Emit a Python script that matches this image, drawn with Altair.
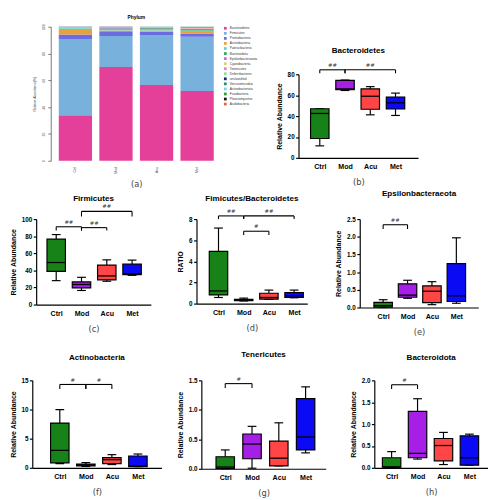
import altair as alt
import pandas as pd

# ---------------- data ----------------
groups = ["Ctrl", "Mod", "Acu", "Met"]
group_colors = ["#178217", "#A51FE6", "#FF4545", "#0A0AF5"]

phyla = ["Bacteroidetes", "Firmicutes", "Proteobacteria", "Actinobacteria",
         "Patescibacteria", "Bacteroidota", "Epsilonbacteraeota", "Cyanobacteria",
         "Tenericutes", "Deferribacteres", "unclassified", "Verrucomicrobia",
         "Actinobacteriota", "Fusobacteria", "Planctomycetes", "Acidobacteria"]
phyla_colors = ["#E4409A", "#78B2DC", "#6C6CE0", "#E9A23B", "#5FD4CF", "#33A55A",
                "#C46BE0", "#D6D36E", "#F47DB8", "#86E39F", "#1E2A5E", "#2B8C78",
                "#72D5F2", "#2E9E2E", "#151515", "#E5632E"]

ctrl_abund = [34.0, 56.5, 3.6, 4.4, 0.6, 0.2, 0.1, 0.1, 0.2, 0.1, 0.1, 0.05, 0.02, 0.01, 0.01, 0.01]
mod_abund = [70.0, 23.0, 3.6, 0.5, 0.8, 0.8, 0.5, 0.1, 0.4, 0.1, 0.1, 0.05, 0.02, 0.01, 0.01, 0.01]
acu_abund = [56.5, 37.0, 2.8, 0.8, 1.2, 0.5, 0.4, 0.1, 0.3, 0.1, 0.1, 0.1, 0.05, 0.02, 0.01, 0.02]
met_abund = [52.0, 40.5, 2.5, 1.0, 1.2, 0.3, 0.7, 0.4, 0.8, 0.2, 0.1, 0.2, 0.05, 0.02, 0.01, 0.02]

# box stats per group: [min, q1, median, q3, max]  (Ctrl, Mod, Acu, Met)
bacteroidetes = [[11.5, 18.5, 42.5, 47.0, 47.0], [64.5, 65.2, 66.0, 74.2, 74.5],
                 [41.2, 46.5, 59.0, 66.0, 68.2], [40.6, 46.8, 52.7, 58.3, 62.0]]
firmicutes = [[28.0, 38.8, 49.2, 76.5, 81.9], [16.5, 19.6, 23.5, 26.5, 31.9],
              [27.3, 28.8, 33.5, 46.2, 52.3], [34.2, 35.0, 36.0, 47.3, 52.0]]
fb_ratio = [[0.58, 0.82, 1.2, 4.95, 7.15], [0.25, 0.27, 0.33, 0.40, 0.52],
            [0.40, 0.43, 0.58, 0.98, 1.28], [0.55, 0.58, 0.73, 1.04, 1.28]]
epsilon = [[0.0, 0.01, 0.05, 0.146, 0.22], [0.26, 0.29, 0.35, 0.67, 0.77],
           [0.08, 0.14, 0.46, 0.61, 0.73], [0.12, 0.17, 0.33, 1.24, 1.97]]
actino = [[0.73, 0.85, 2.99, 7.67, 9.98], [0.23, 0.34, 0.50, 0.62, 0.90],
          [0.56, 0.73, 1.40, 1.75, 2.26], [0.20, 0.20, 0.30, 2.03, 2.37]]
teneri = [[0.0, 0.005, 0.03, 0.205, 0.32], [0.01, 0.17, 0.42, 0.59, 0.72],
          [0.05, 0.05, 0.18, 0.47, 0.78], [0.27, 0.32, 0.54, 1.19, 1.39]]
bacteroidota = [[0.0, 0.015, 0.02, 0.23, 0.37], [0.20, 0.23, 0.33, 1.29, 1.58],
                [0.075, 0.16, 0.51, 0.67, 0.81], [0.06, 0.06, 0.23, 0.73, 0.77]]

# significance brackets: (group from, group to, bar level, leg end, label)
br_bacteroidetes = [("Ctrl", "Mod", 84.3, 81.0, "##"), ("Mod", "Met", 84.3, 81.0, "##")]
br_firmicutes = [("Ctrl", "Mod", 91.0, 86.5, "##"), ("Mod", "Acu", 90.0, 86.5, "##"),
                 ("Mod", "Met", 109.0, 103.0, "##")]
br_ratio = [("Ctrl", "Mod", 8.3, 8.0, "##"), ("Mod", "Met", 8.3, 8.0, "##"),
            ("Mod", "Acu", 6.85, 6.5, "#")]
br_epsilon = [("Ctrl", "Mod", 2.34, 2.22, "##")]
br_actino = [("Ctrl", "Mod", 14.3, 13.5, "#"), ("Mod", "Acu", 14.3, 13.5, "#")]
br_teneri = [("Ctrl", "Mod", 1.445, 1.37, "#")]
br_bacteroidota = [("Ctrl", "Mod", 1.90, 1.80, "#")]

FONT = "Liberation Sans"
label_expr = "[" + ",".join("'" + g + "'" for g in groups) + "][datum.value - 1]"
empty_df = pd.DataFrame({"s": pd.Series([], dtype=float)})


def spacer(w, h):
    return alt.Chart(empty_df).mark_point().encode(
        x=alt.X("s:Q", axis=None), y=alt.Y("s:Q", axis=None)
    ).properties(width=w, height=h)


def box_panel(title, stats, ytitle, ydom, yvals, yfmt, xdom, w, h, sub, brackets, toff):
    df = pd.DataFrame({
        "group": groups,
        "pos": [i + 1 for i in range(len(groups))],
        "mn": [s[0] for s in stats], "q1": [s[1] for s in stats],
        "md": [s[2] for s in stats], "q3": [s[3] for s in stats],
        "mx": [s[4] for s in stats],
    })
    bdf = pd.DataFrame({
        "x1": [groups.index(b[0]) + 1 for b in brackets],
        "x2": [groups.index(b[1]) + 1 for b in brackets],
        "ytop": [b[2] for b in brackets],
        "ybot": [b[3] for b in brackets],
        "label": [b[4] for b in brackets],
    })
    bdf["xm"] = (bdf["x1"] + bdf["x2"]) / 2

    xscale = alt.Scale(domain=xdom, nice=False, zero=False)
    xaxis = alt.Axis(values=[1, 2, 3, 4], labelExpr=label_expr, ticks=False, grid=False,
                     domainColor="black", domainWidth=1.2, labelFont=FONT,
                     labelFontWeight="bold", labelFontSize=7.3, labelColor="black",
                     labelPadding=5, labelFlush=False, labelOverlap=False,
                     title=sub, titleFont="DejaVu Sans", titleFontWeight="normal",
                     titleFontSize=8.5, titleColor="#444", titlePadding=8)
    yscale = alt.Scale(domain=ydom, nice=False, zero=True)
    yaxis = alt.Axis(values=yvals, format=yfmt, title=ytitle, grid=False,
                     domainColor="black", domainWidth=1.2, tickColor="black",
                     tickWidth=1.2, tickSize=3, labelFont=FONT, labelFontWeight="bold",
                     labelFontSize=6.5, labelColor="black", labelPadding=1.5,
                     titleFont=FONT, titleFontWeight="bold", titleFontSize=7.2,
                     titleColor="black", titlePadding=4)

    def X(f):
        return alt.X(f, type="quantitative", scale=xscale, axis=xaxis)

    def Y(f):
        return alt.Y(f, type="quantitative", scale=yscale, axis=yaxis)

    base = alt.Chart(df)
    whisk_hi = base.mark_rule(color="black", strokeWidth=1.2).encode(x=X("pos"), y=Y("q3"), y2="mx:Q")
    whisk_lo = base.mark_rule(color="black", strokeWidth=1.2).encode(x=X("pos"), y=Y("mn"), y2="q1:Q")
    cap_hi = base.mark_tick(orient="horizontal", size=9, thickness=1.2, color="black",
                            opacity=1).encode(x=X("pos"), y=Y("mx"))
    cap_lo = base.mark_tick(orient="horizontal", size=9, thickness=1.2, color="black",
                            opacity=1).encode(x=X("pos"), y=Y("mn"))
    box = base.mark_bar(size=19, stroke="black", strokeWidth=1.2, opacity=1).encode(
        x=X("pos"), y=Y("q1"), y2="q3:Q",
        color=alt.Color("group:N", scale=alt.Scale(domain=groups, range=group_colors), legend=None))
    med = base.mark_tick(orient="horizontal", size=19, thickness=1.3, color="black",
                         opacity=1).encode(x=X("pos"), y=Y("md"))
    bb = alt.Chart(bdf)
    hbar = bb.mark_rule(color="black", strokeWidth=1.1).encode(x=X("x1"), x2="x2:Q", y=Y("ytop"))
    leg1 = bb.mark_rule(color="black", strokeWidth=1.1).encode(x=X("x1"), y=Y("ybot"), y2="ytop:Q")
    leg2 = bb.mark_rule(color="black", strokeWidth=1.1).encode(x=X("x2"), y=Y("ybot"), y2="ytop:Q")
    txt = bb.mark_text(baseline="bottom", dy=-2, fontSize=5.5, font="DejaVu Sans",
                       color="#333").encode(x=X("xm"), y=Y("ytop"), text="label:N")
    return alt.layer(whisk_hi, whisk_lo, cap_hi, cap_lo, box, med, hbar, leg1, leg2, txt).properties(
        width=w, height=h,
        title=alt.TitleParams(title, font=FONT, fontSize=8.3, fontWeight="bold",
                              color="black", offset=toff, anchor="middle"))


# ---------------- panel (a) ----------------
abund = {"Ctrl": ctrl_abund, "Mod": mod_abund, "Acu": acu_abund, "Met": met_abund}
rows = []
for g in groups:
    for i, p in enumerate(phyla):
        rows.append({"group": g, "phylum": p, "ord": i, "value": abund[g][i]})
adf = pd.DataFrame(rows)

panel_a = alt.Chart(adf).mark_bar(opacity=1).encode(
    x=alt.X("group:N", sort=groups,
            scale=alt.Scale(paddingInner=0.18, paddingOuter=0.03),
            axis=alt.Axis(title="(a)", domain=False, ticks=False, labelAngle=-90,
                          labelFontSize=3.6, labelColor="#444", labelPadding=6,
                          titleFont="DejaVu Sans", titleFontSize=8.5, titleFontWeight="normal",
                          titleColor="#444", titlePadding=6)),
    y=alt.Y("value:Q", stack="zero", scale=alt.Scale(domain=[0, 100], nice=False),
            axis=alt.Axis(values=[0, 20, 40, 60, 80, 100], offset=7, labelAngle=-90,
                          labelFontSize=3.6, labelColor="#444", domainColor="#555",
                          domainWidth=0.8, tickColor="#555", tickWidth=0.8, tickSize=3,
                          labelPadding=2, grid=False, title="Relative Abundance(%)",
                          titleFontSize=3.4, titleFontWeight="normal", titleColor="#333",
                          titlePadding=6)),
    color=alt.Color("phylum:N", scale=alt.Scale(domain=phyla, range=phyla_colors),
                    legend=alt.Legend(title=None, symbolType="square", symbolSize=8,
                                      symbolStrokeWidth=0, labelFontSize=3.3, labelColor="#333",
                                      rowPadding=0.2, labelOffset=3, offset=9, padding=0)),
    order=alt.Order("ord:Q"),
).properties(width=162, height=138,
             title=alt.TitleParams("Phylum", font=FONT, fontSize=5, fontWeight="bold",
                                   offset=4, anchor="middle"))

# ---------------- box panels ----------------
panel_b = box_panel("Bacteroidetes", bacteroidetes, "Relative Abundance", [0, 80],
                    [0, 20, 40, 60, 80], "d", [0.35, 4.7], 123, 86, "(b)", br_bacteroidetes, 8.5)
panel_c = box_panel("Firmicutes", firmicutes, "Relative Abundance", [0, 100],
                    [0, 20, 40, 60, 80, 100], "d", [0.4, 4.55], 118, 88, "(c)", br_firmicutes, 2)
panel_d = box_panel("Fimicutes/Bacteroidetes", fb_ratio, "RATIO", [0, 8],
                    [0, 2, 4, 6, 8], "d", [0.32, 4.33], 114, 87, "(d)", br_ratio, 7.5)
panel_e = box_panel("Epsilonbacteraeota", epsilon, "Relative Abundance", [0, 2.5],
                    [0, 0.5, 1.0, 1.5, 2.0, 2.5], ".1f", [0.24, 4.7], 122, 91, "(e)", br_epsilon, 19.5)
panel_f = box_panel("Actinobacteria", actino, "Relative Abundance", [0, 15],
                    [0, 5, 10, 15], "d", [0.13, 4.72], 133, 90, "(f)", br_actino, 16.5)
panel_g = box_panel("Tenericutes", teneri, "Relative Abundance", [0, 1.5],
                    [0, 0.5, 1.0, 1.5], ".1f", [0.29, 4.57], 128, 91, "(g)", br_teneri, 19)
panel_h = box_panel("Bacteroidota", bacteroidota, "Relative Abundance", [0, 2.0],
                    [0, 0.5, 1.0, 1.5, 2.0], ".1f", [0.52, 4.53], 117, 90, "(h)", br_bacteroidota, 17)

ind = dict(color="independent")

b_col = alt.vconcat(spacer(1, 20), panel_b, spacing=0)
row1 = alt.hconcat(
    spacer(25, 1),
    alt.hconcat(panel_a, b_col, spacing=18).resolve_scale(**ind),
    spacing=0).resolve_scale(**ind)
row2 = alt.hconcat(
    spacer(1, 1),
    alt.hconcat(alt.hconcat(panel_c, panel_d, spacing=26), panel_e, spacing=28),
    spacing=0)
row3 = alt.hconcat(
    spacer(1, 1),
    alt.hconcat(alt.hconcat(panel_f, panel_g, spacing=15), panel_h, spacing=24),
    spacing=0)

chart = alt.vconcat(row1, spacer(1, 1), row2, spacer(1, 15), row3, spacing=0,
                    padding=0, background="white").resolve_scale(**ind).configure_view(stroke=None)

chart.save("out.html", embed_options={"renderer": "svg", "actions": False})
